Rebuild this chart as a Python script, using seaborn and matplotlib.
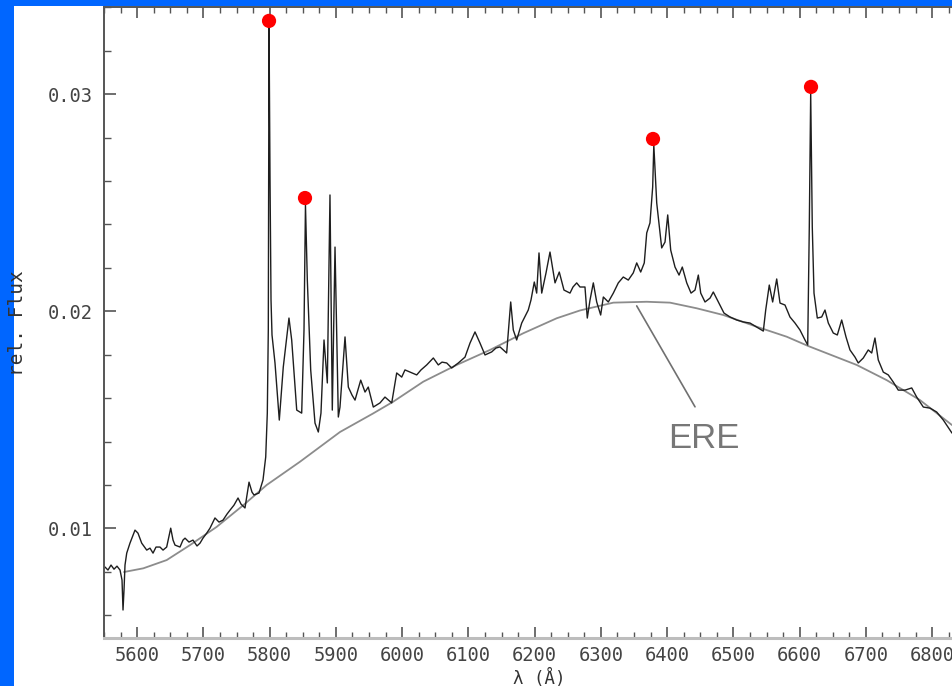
import numpy as np
import pandas as pd
import matplotlib
matplotlib.use('Agg')
import matplotlib.pyplot as plt
from matplotlib.patches import Rectangle
from matplotlib.ticker import MultipleLocator, FixedLocator
import seaborn as sns

# observed spectrum (wavelength in Angstrom, relative flux)
wavelength = [5551.5, 5556.0, 5560.6, 5565.1, 5569.6, 5574.2, 5577.2, 5578.7, 5580.2, 5581.7,
              5584.3, 5589.2, 5596.8, 5601.3, 5606.9, 5614.5, 5619.4, 5624.0, 5628.5, 5634.5,
              5639.1, 5644.6, 5650.7, 5654.2, 5657.2, 5664.7, 5669.2, 5672.3, 5678.3, 5684.3,
              5690.4, 5694.9, 5699.4, 5705.0, 5710.0, 5717.5, 5723.6, 5729.6, 5735.7, 5740.2,
              5746.2, 5752.3, 5756.8, 5762.8, 5768.9, 5773.4, 5776.4, 5784.0, 5790.0, 5794.1,
              5796.5, 5798.0, 5799.1, 5800.6, 5802.1, 5803.6, 5808.1, 5814.6, 5820.6, 5829.2,
              5833.3, 5840.9, 5848.4, 5851.9, 5854.1, 5856.9, 5862.0, 5868.5, 5873.5, 5877.5,
              5882.1, 5887.1, 5891.1, 5894.6, 5898.7, 5903.7, 5906.2, 5913.8, 5918.8, 5924.4,
              5928.9, 5937.5, 5944.0, 5948.9, 5956.5, 5966.6, 5974.1, 5984.3, 5991.8, 5999.4,
              6004.3, 6011.9, 6022.0, 6028.5, 6037.1, 6047.1, 6054.6, 6060.2, 6067.3, 6074.8,
              6084.8, 6094.9, 6102.5, 6110.0, 6117.5, 6125.1, 6135.2, 6141.7, 6147.7, 6157.8,
              6163.9, 6167.8, 6172.9, 6180.5, 6190.4, 6194.5, 6199.5, 6203.1, 6206.6, 6210.7,
              6217.2, 6223.2, 6230.8, 6237.2, 6244.3, 6253.4, 6257.9, 6263.5, 6268.5, 6276.0,
              6279.5, 6283.6, 6288.6, 6293.7, 6299.7, 6303.7, 6311.2, 6318.8, 6326.3, 6333.8,
              6341.4, 6348.9, 6354.1, 6360.1, 6365.5, 6369.2, 6374.1, 6378.2, 6379.9, 6384.3,
              6391.8, 6396.8, 6400.9, 6405.4, 6411.9, 6418.0, 6422.9, 6429.6, 6436.1, 6442.1,
              6447.1, 6450.7, 6457.2, 6464.8, 6469.7, 6477.3, 6485.8, 6494.9, 6505.0, 6515.0,
              6525.1, 6537.6, 6545.2, 6548.8, 6554.2, 6559.3, 6565.4, 6570.4, 6577.9, 6585.4,
              6593.0, 6600.5, 6608.1, 6612.2, 6614.6, 6616.7, 6619.1, 6621.7, 6626.7, 6633.3,
              6638.3, 6643.3, 6650.8, 6656.9, 6663.5, 6670.0, 6676.0, 6683.6, 6688.5, 6696.1,
              6703.6, 6708.8, 6713.7, 6718.7, 6726.3, 6733.8, 6741.4, 6748.9, 6759.1, 6769.2,
              6776.7, 6786.7, 6796.8, 6806.9, 6816.9, 6827.0, 6830.0]
flux = [0.00822, 0.00808, 0.00831, 0.00812, 0.00826, 0.00808, 0.00762, 0.00624, 0.00716, 0.00831,
        0.00886, 0.00932, 0.00992, 0.00978, 0.00932, 0.00900, 0.00909, 0.00886, 0.00914, 0.00914,
        0.00900, 0.00914, 0.01001, 0.00946, 0.00923, 0.00914, 0.00946, 0.00955, 0.00937, 0.00946,
        0.00919, 0.00932, 0.00955, 0.00978, 0.01001, 0.01048, 0.01029, 0.01038, 0.01066, 0.01084,
        0.01107, 0.01140, 0.01112, 0.01094, 0.01213, 0.01167, 0.01154, 0.01163, 0.01223, 0.01329,
        0.01531, 0.01914, 0.03319, 0.02605, 0.02052, 0.01891, 0.01762, 0.01499, 0.01743, 0.01969,
        0.01868, 0.01545, 0.01531, 0.01914, 0.02490, 0.02144, 0.01730, 0.01485, 0.01444, 0.01531,
        0.01868, 0.01670, 0.02536, 0.01545, 0.02296, 0.01513, 0.01559, 0.01882, 0.01651, 0.01614,
        0.01591, 0.01683, 0.01628, 0.01651, 0.01559, 0.01578, 0.01605, 0.01578, 0.01716, 0.01697,
        0.01730, 0.01720, 0.01707, 0.01730, 0.01753, 0.01785, 0.01753, 0.01766, 0.01762, 0.01739,
        0.01762, 0.01789, 0.01854, 0.01905, 0.01854, 0.01799, 0.01813, 0.01831, 0.01836, 0.01808,
        0.02043, 0.01914, 0.01868, 0.01946, 0.02006, 0.02052, 0.02135, 0.02084, 0.02269, 0.02084,
        0.02177, 0.02273, 0.02131, 0.02181, 0.02098, 0.02084, 0.02112, 0.02131, 0.02112, 0.02112,
        0.01969, 0.02052, 0.02131, 0.02043, 0.01983, 0.02066, 0.02043, 0.02084, 0.02131, 0.02158,
        0.02144, 0.02177, 0.02223, 0.02181, 0.02223, 0.02361, 0.02407, 0.02573, 0.02766, 0.02499,
        0.02292, 0.02319, 0.02444, 0.02282, 0.02204, 0.02167, 0.02204, 0.02131, 0.02084, 0.02098,
        0.02167, 0.02084, 0.02043, 0.02061, 0.02089, 0.02043, 0.01992, 0.01974, 0.01960, 0.01951,
        0.01946, 0.01923, 0.01909, 0.02006, 0.02121, 0.02043, 0.02149, 0.02038, 0.02029, 0.01974,
        0.01946, 0.01914, 0.01868, 0.01845, 0.02389, 0.03006, 0.02389, 0.02084, 0.01969, 0.01974,
        0.02006, 0.01946, 0.01900, 0.01891, 0.01960, 0.01882, 0.01822, 0.01789, 0.01762, 0.01785,
        0.01822, 0.01808, 0.01877, 0.01776, 0.01720, 0.01707, 0.01674, 0.01637, 0.01637, 0.01647,
        0.01605, 0.01559, 0.01554, 0.01536, 0.01499, 0.01453, 0.01439]

# smooth ERE band
ere_wavelength = [5580.2, 5609.3, 5644.6, 5679.8, 5720.1, 5760.3, 5795.6, 5845.8, 5906.2, 5956.5,
                  5986.7, 6032.0, 6082.4, 6132.6, 6182.9, 6233.3, 6268.5, 6318.8, 6369.2, 6404.3,
                  6444.6, 6484.8, 6535.2, 6580.5, 6613.1, 6686.1, 6731.4, 6781.7, 6830.0]
ere_flux = [0.00799, 0.00816, 0.00854, 0.00923, 0.01007, 0.01107, 0.01200, 0.01307, 0.01444, 0.01530,
            0.01584, 0.01676, 0.01753, 0.01822, 0.01899, 0.01968, 0.02004, 0.02040, 0.02044, 0.02040,
            0.02014, 0.01983, 0.01929, 0.01883, 0.01840, 0.01753, 0.01683, 0.01591, 0.01476]

# emission peaks marked in red
peak_wavelength = [5799.1, 5853.4, 6378.7, 6617.2]
peak_flux = [0.03338, 0.02522, 0.02794, 0.03034]

sns.set_style('ticks')
plt.rcParams['font.family'] = ['DejaVu Sans Mono', 'DejaVu Sans']

W, H = 952, 686
fig = plt.figure(figsize=(W / 100, H / 100), dpi=100, facecolor='#0066ff')
fig.add_artist(Rectangle((14 / W, 0), 1, (H - 6) / H, transform=fig.transFigure,
                         facecolor='white', edgecolor='none', zorder=-5))
ax = fig.add_axes([104 / W, 48 / H, (W - 104) / W, 631 / H])

sns.lineplot(x=ere_wavelength, y=ere_flux, sort=False, estimator=None,
             color='#8c8c8c', lw=1.3, ax=ax)
sns.lineplot(x=wavelength, y=flux, sort=False, estimator=None,
             color='#1e1e1e', lw=1.0, ax=ax)
sns.scatterplot(x=peak_wavelength, y=peak_flux, s=105, color='#ff0000',
                edgecolor='none', zorder=5, ax=ax)

# ERE label with pointer line
ax.plot([6354.1, 6442.1], [0.02025, 0.01560], color='#707070', lw=1.2)
ax.text(6455.7, 0.01412, 'ERE', fontsize=25, color='#777777',
        family=['Liberation Sans', 'DejaVu Sans'], ha='center', va='center')

ax.set_xlim(5550, 6830)
ax.set_ylim(0.00495, 0.03402)
ax.xaxis.set_major_locator(MultipleLocator(100))
ax.xaxis.set_minor_locator(MultipleLocator(25))
ax.yaxis.set_major_locator(FixedLocator([0.01, 0.02, 0.03]))
ax.yaxis.set_minor_locator(MultipleLocator(0.002))
ax.set_yticklabels(['0.01', '0.02', '0.03'])

ax.tick_params(which='both', direction='in', color='#555555', top=True, right=False,
               labelsize=13.5, labelcolor='#444444')
ax.tick_params(axis='x', which='major', length=8, width=1.2, pad=6)
ax.tick_params(axis='x', which='minor', length=4.5, width=1.0)
ax.tick_params(axis='y', which='major', length=8.5, width=1.2, pad=8)
ax.tick_params(axis='y', which='minor', length=5, width=1.0)

for side in ['left', 'top']:
    ax.spines[side].set_color('#555555')
    ax.spines[side].set_linewidth(1.4)
ax.spines['bottom'].set_color('#bdbdbd')
ax.spines['bottom'].set_linewidth(2.2)
ax.spines['right'].set_visible(False)

ax.set_xlabel('λ (Å)', fontsize=12.5, color='#333333')
ax.xaxis.set_label_coords(0.513, -0.049)
ax.set_ylabel('rel. Flux', fontsize=14, color='#333333')
ax.yaxis.set_label_coords(-0.091, 0.499)

fig.savefig('out.png', dpi=100, facecolor=fig.get_facecolor())
